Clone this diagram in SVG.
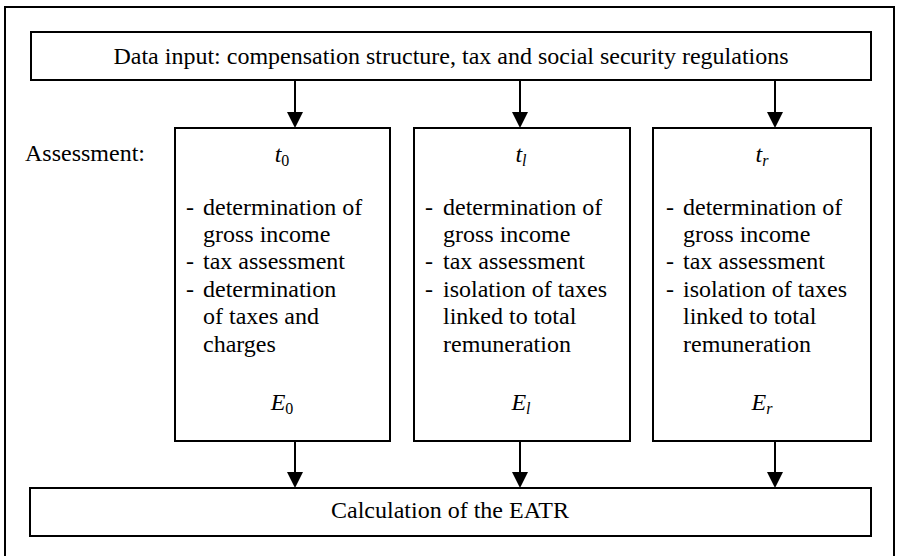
<svg xmlns="http://www.w3.org/2000/svg" width="898" height="559" viewBox="0 0 898 559" font-family="'Liberation Serif', 'Times New Roman', 'DejaVu Serif', serif">
<defs>
<style>
.box{fill:#fff;stroke:#000;stroke-width:2}
.frame{fill:none;stroke:#000;stroke-width:2}
text{font-size:24px;fill:#000}
.c{text-anchor:middle}
.conn{stroke:#000;stroke-width:2;fill:none;marker-end:url(#arr)}
.i{font-style:italic}
.sub{font-size:16px}
</style>
<marker id="arr" markerUnits="userSpaceOnUse" markerWidth="16" markerHeight="16" refX="14" refY="8" orient="auto" viewBox="0 0 16 16">
<path d="M0,0 L16,8 L0,16 z" fill="#000"/>
</marker>
</defs>
<rect width="898" height="559" fill="#fff"/>
<path class="frame" d="M5,556 V7 H894 V556"/>
<g id="connectors">
<line class="conn" x1="295" y1="80" x2="295" y2="126"/>
<line class="conn" x1="520" y1="80" x2="520" y2="126"/>
<line class="conn" x1="775" y1="80" x2="775" y2="126"/>
<line class="conn" x1="295" y1="441" x2="295" y2="486"/>
<line class="conn" x1="520" y1="441" x2="520" y2="486"/>
<line class="conn" x1="775" y1="441" x2="775" y2="486"/>
</g>
<g id="input">
<rect class="box" x="31" y="32" width="840" height="48"/>
<text class="c" x="451" y="64">Data input: compensation structure, tax and social security regulations</text>
</g>
<g id="label">
<text x="25" y="161">Assessment:</text>
</g>
<g id="t0">
<rect class="box" x="175" y="128" width="215" height="313"/>
<text class="c" x="282" y="162"><tspan class="i">t</tspan><tspan class="sub" dy="4">0</tspan></text>
<text x="186" y="215">-</text>
<text x="203" y="215">determination of</text>
<text x="203" y="242">gross income</text>
<text x="186" y="269">-</text>
<text x="203" y="269">tax assessment</text>
<text x="186" y="297">-</text>
<text x="203" y="297">determination</text>
<text x="203" y="324">of taxes and</text>
<text x="203" y="352">charges</text>
<text class="c" x="282" y="410"><tspan class="i">E</tspan><tspan class="sub" dy="4">0</tspan></text>
</g>
<g id="tl">
<rect class="box" x="414" y="128" width="216" height="313"/>
<text class="c" x="521" y="162"><tspan class="i">t</tspan><tspan class="sub i" dy="4">l</tspan></text>
<text x="425" y="215">-</text>
<text x="443" y="215">determination of</text>
<text x="443" y="242">gross income</text>
<text x="425" y="269">-</text>
<text x="443" y="269">tax assessment</text>
<text x="425" y="297">-</text>
<text x="443" y="297">isolation of taxes</text>
<text x="443" y="324">linked to total</text>
<text x="443" y="352">remuneration</text>
<text class="c" x="521" y="410"><tspan class="i">E</tspan><tspan class="sub i" dy="4">l</tspan></text>
</g>
<g id="tr">
<rect class="box" x="653" y="128" width="218" height="313"/>
<text class="c" x="762" y="162"><tspan class="i">t</tspan><tspan class="sub i" dy="4">r</tspan></text>
<text x="666" y="215">-</text>
<text x="683" y="215">determination of</text>
<text x="683" y="242">gross income</text>
<text x="666" y="269">-</text>
<text x="683" y="269">tax assessment</text>
<text x="666" y="297">-</text>
<text x="683" y="297">isolation of taxes</text>
<text x="683" y="324">linked to total</text>
<text x="683" y="352">remuneration</text>
<text class="c" x="762" y="410"><tspan class="i">E</tspan><tspan class="sub i" dy="4">r</tspan></text>
</g>
<g id="eatr">
<rect class="box" x="30" y="488" width="841" height="48"/>
<text class="c" x="450" y="518">Calculation of the EATR</text>
</g>
</svg>
